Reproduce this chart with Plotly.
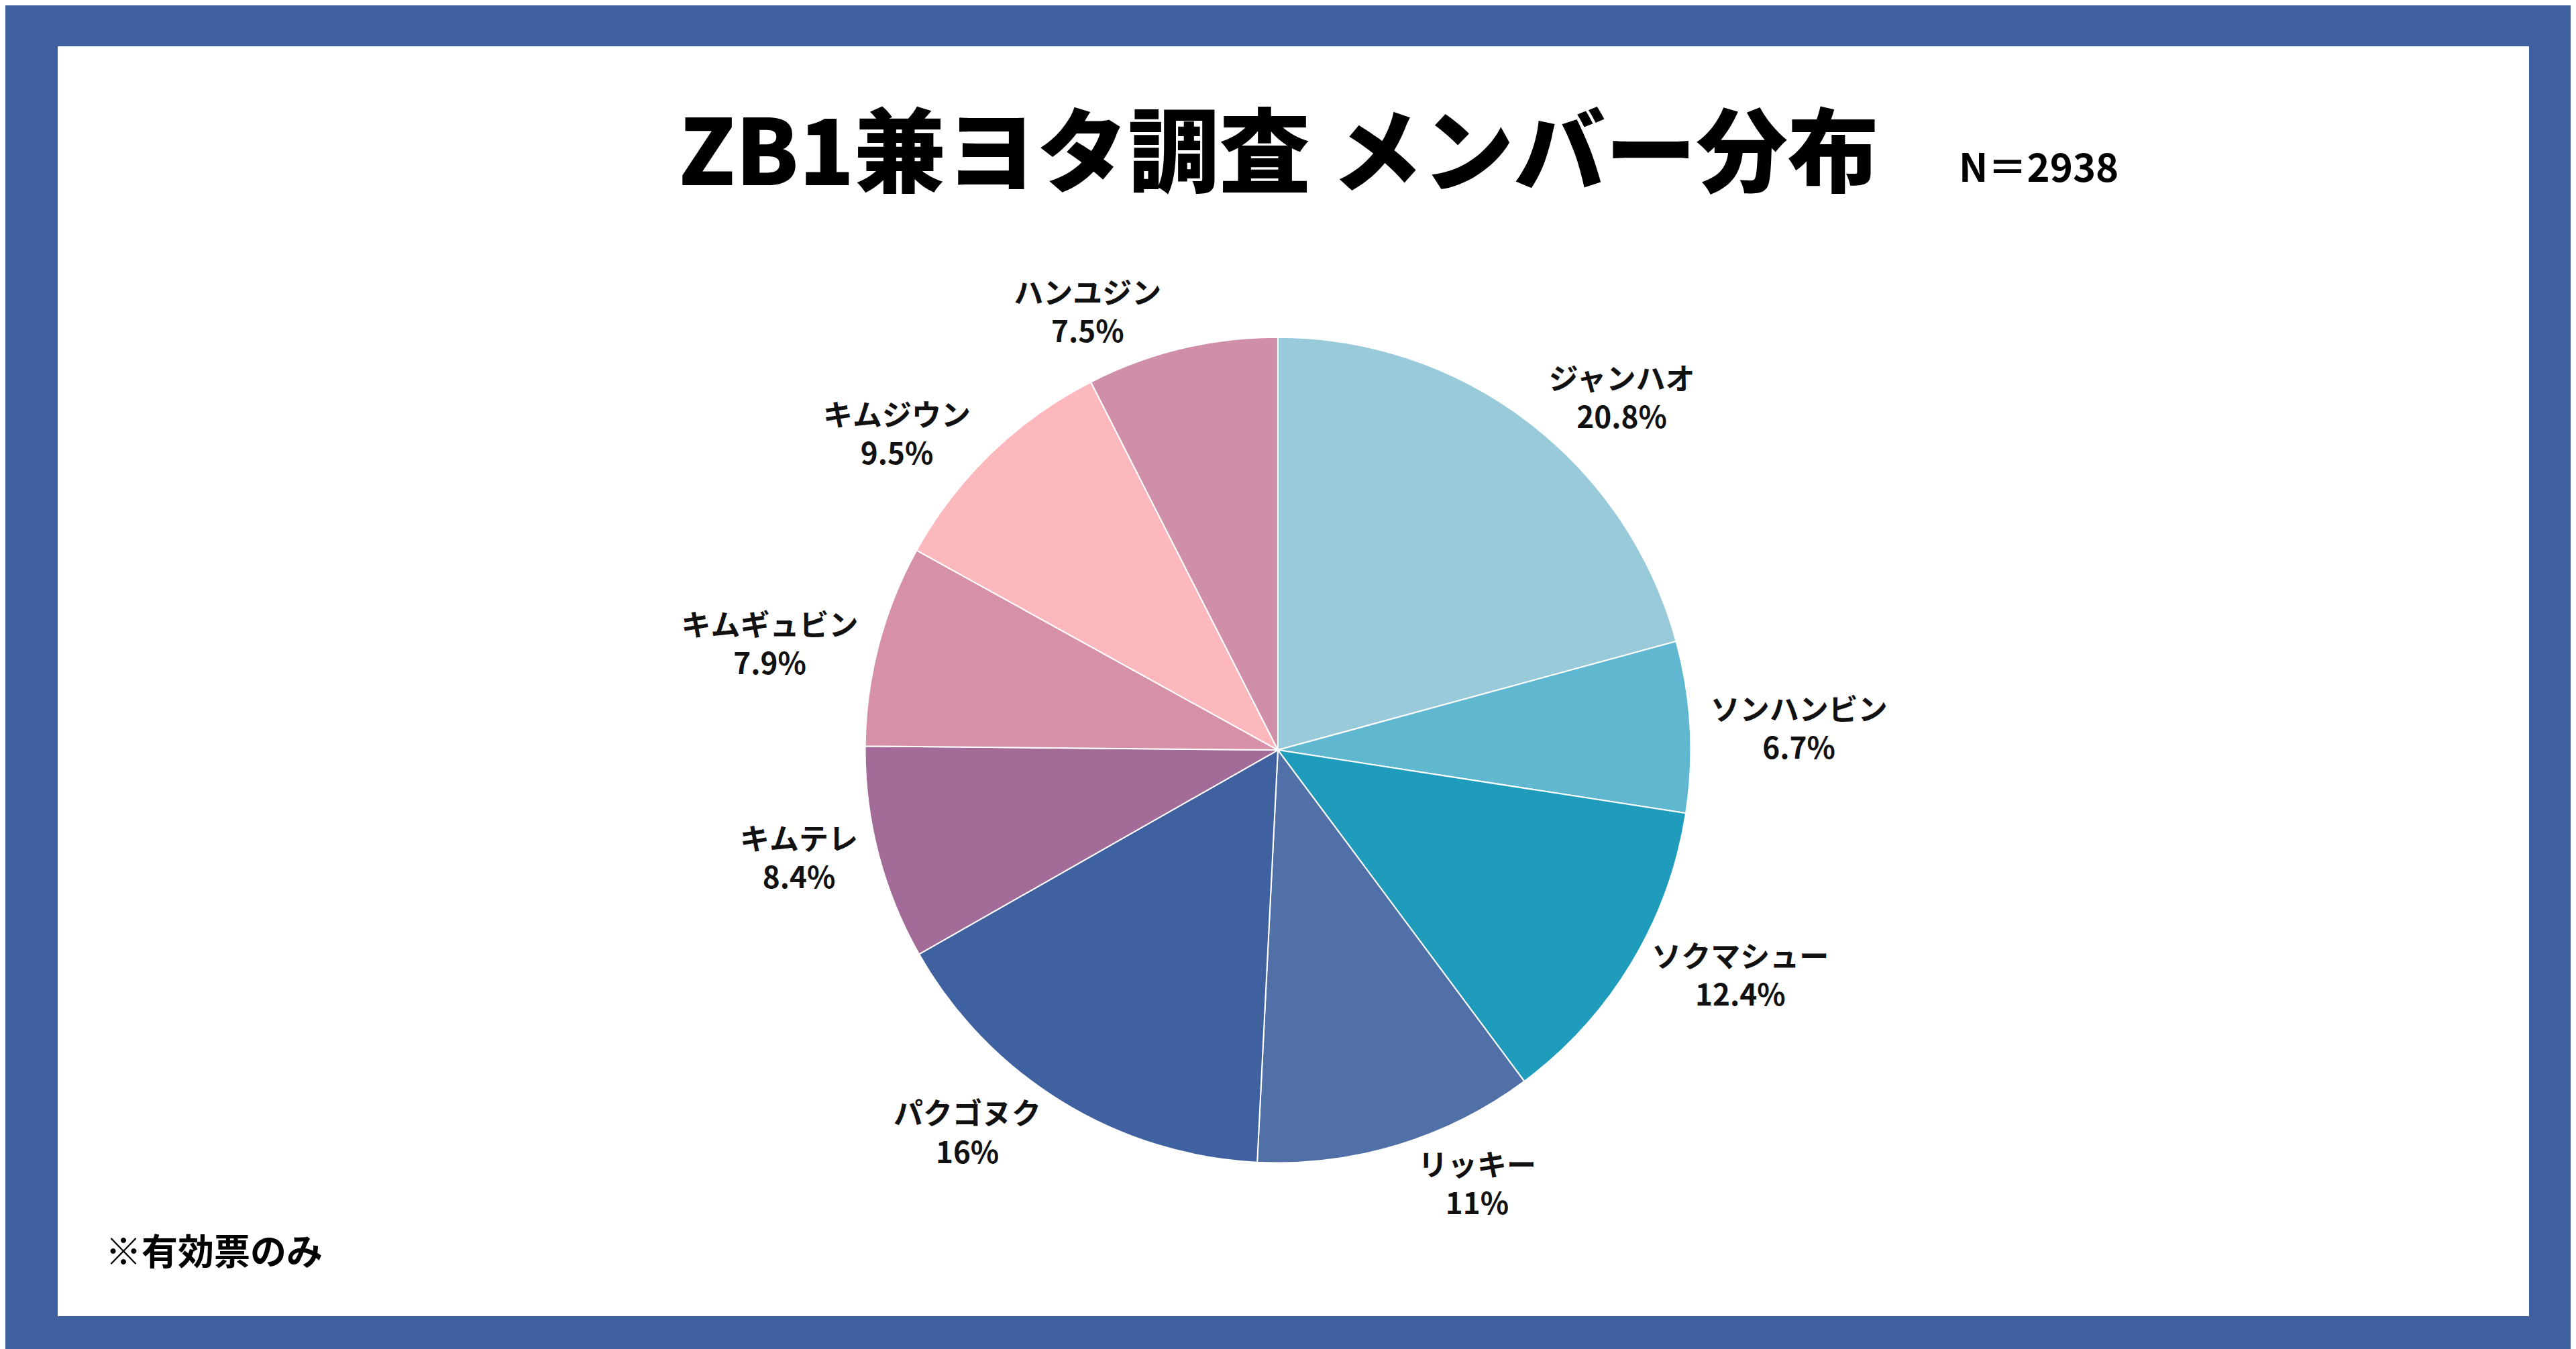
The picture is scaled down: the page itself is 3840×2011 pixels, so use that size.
import plotly.graph_objects as go

members = ["ジャンハオ", "ソンハンビン", "ソクマシュー", "リッキー", "パクゴヌク",
           "キムテレ", "キムギュビン", "キムジウン", "ハンユジン"]
values = [20.8, 6.7, 12.4, 11, 16, 8.4, 7.9, 9.5, 7.5]
pct_labels = ["20.8%", "6.7%", "12.4%", "11%", "16%", "8.4%", "7.9%", "9.5%", "7.5%"]
colors = ["#99CAD9", "#5FB8CF", "#1F9BBB", "#5270A8", "#3F61A0",
          "#A36B97", "#D691A8", "#FDB8BE", "#D08FA8"]

W, H = 3840, 2011
font = "Noto Sans CJK JP"

fig = go.Figure(go.Pie(
    labels=members, values=values, text=pct_labels,
    texttemplate="%{label}<br>%{text}", textposition="outside",
    sort=False, direction="clockwise", rotation=0,
    marker=dict(colors=colors, line=dict(color="white", width=2)),
    textfont=dict(family=font, size=44, color="#111111", weight="bold"),
    domain=dict(x=[0.324, 0.664], y=[0.142, 0.754]),
    showlegend=False, hoverinfo="skip",
))

fig.update_layout(
    width=W, height=H, margin=dict(l=0, r=0, t=0, b=0),
    paper_bgcolor="#3F61A0",
    shapes=[dict(type="rect", xref="paper", yref="paper",
                 x0=78/W, x1=3762/W, y0=1-1954/H, y1=1-61/H,
                 fillcolor="white", line=dict(width=0), layer="below")],
    annotations=[
        dict(text="ZB1兼ヨタ調査 メンバー分布", x=1898/W, y=1-208/H, xref="paper", yref="paper",
             showarrow=False, xanchor="center", yanchor="middle",
             font=dict(family=font, size=136, color="black", weight=900)),
        dict(text="N＝2938", x=2910/W, y=1-238/H, xref="paper", yref="paper",
             showarrow=False, xanchor="left", yanchor="middle",
             font=dict(family=font, size=58, color="black", weight="bold")),
        dict(text="※有効票のみ", x=147/W, y=1-1854/H, xref="paper", yref="paper",
             showarrow=False, xanchor="left", yanchor="middle",
             font=dict(family=font, size=54, color="black", weight="bold")),
    ],
)
fig.write_html("out.html")
